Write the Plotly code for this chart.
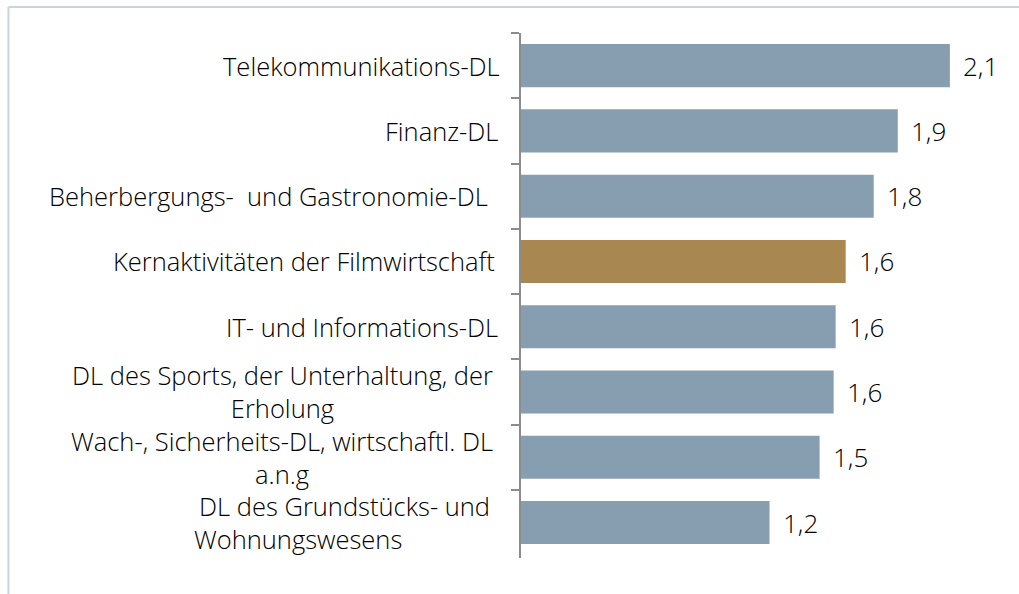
import plotly.graph_objects as go

# ---- data ----
categories = [
    "Telekommunikations-DL",
    "Finanz-DL",
    "Beherbergungs- und Gastronomie-DL",
    "Kernaktivitäten der Filmwirtschaft",
    "IT- und Informations-DL",
    "DL des Sports, der Unterhaltung, der Erholung",
    "Wach-, Sicherheits-DL, wirtschaftl. DL a.n.g",
    "DL des Grundstücks- und Wohnungswesens",
]
tick_labels = [
    "Telekommunikations-DL",
    "Finanz-DL",
    "Beherbergungs-\u00a0 und Gastronomie-DL",
    "Kernaktivitäten der Filmwirtschaft",
    "IT- und Informations-DL",
    "DL des Sports, der Unterhaltung, der<br>Erholung",
    "Wach-, Sicherheits-DL, wirtschaftl. DL<br>a.n.g",
    "DL des Grundstücks- und<br>Wohnungswesens" + "\u00a0" * 14,
]
values = [2.14, 1.88, 1.76, 1.62, 1.57, 1.56, 1.49, 1.24]
highlight = "Kernaktivitäten der Filmwirtschaft"

# ---- style ----
BLUE = "#879eb0"
GOLD = "#a98751"
AXIS = "#8c8c8c"
BORDER = "#c9d3d9"
FONT = "Open Sans"
label_right = [-19, -21, -31, -24, -21, -26, -26, -24]  # px offsets of label right edge from axis

colors = [GOLD if c == highlight else BLUE for c in categories]

fig = go.Figure(
    go.Bar(
        x=values,
        y=categories,
        orientation="h",
        marker=dict(color=colors, line=dict(width=0)),
        hoverinfo="skip",
    )
)

annotations = []
for cat, lab, dx in zip(categories, tick_labels, label_right):
    annotations.append(dict(
        x=0, xref="paper", y=cat, yref="y", text=lab, showarrow=False,
        xanchor="right", yanchor="middle", align="center", xshift=dx,
        font=dict(family=FONT, size=25.5, color="#000000", weight=300),
    ))
for cat, v in zip(categories, values):
    annotations.append(dict(
        x=v, xref="x", y=cat, yref="y", text=f"{v:.1f}".replace(".", ","),
        showarrow=False, xanchor="left", yanchor="middle", xshift=11,
        font=dict(family=FONT, size=26, color="#000000", weight=300),
    ))

fig.update_layout(
    width=1019, height=594,
    margin=dict(l=521, r=17, t=33, b=36),
    paper_bgcolor="white", plot_bgcolor="white",
    bargap=0.34,
    showlegend=False,
    annotations=annotations,
    xaxis=dict(range=[0, 2.4], visible=False, fixedrange=True),
    yaxis=dict(
        type="category", autorange="reversed",
        showticklabels=False, showgrid=False, zeroline=False,
        showline=True, linecolor=AXIS, linewidth=2,
        ticks="outside", tickson="boundaries", ticklen=8, tickwidth=2, tickcolor=AXIS,
        fixedrange=True,
    ),
    shapes=[
        dict(type="line", xref="paper", yref="paper",
             x0=-1.0656, x1=-1.0656, y0=-0.2, y1=1.0495,
             line=dict(color=BORDER, width=2)),
        dict(type="line", xref="paper", yref="paper",
             x0=-1.0656, x1=1.2, y0=1.0495, y1=1.0495,
             line=dict(color=BORDER, width=2)),
    ],
)

fig.write_html(
    "out.html",
    config={"displayModeBar": False},
    post_script="document.body.style.margin='0';document.body.style.overflow='hidden';",
)
